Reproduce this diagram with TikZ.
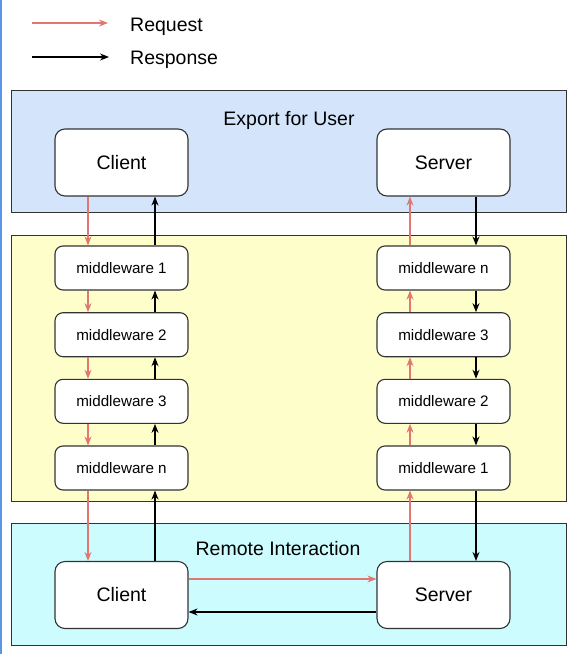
\documentclass[tikz,border=0pt]{standalone}
\usepackage{fontspec}
\setmainfont{Liberation Sans}
\usetikzlibrary{arrows.meta}
\definecolor{reqred}{HTML}{E07772}
\definecolor{boxline}{HTML}{333333}
\definecolor{blueband}{HTML}{D4E5FB}
\definecolor{yellowband}{HTML}{FEFECB}
\definecolor{cyanband}{HTML}{CDFCFE}
\definecolor{edgeblue}{HTML}{5B95E6}
\tikzset{
  band/.style={draw=boxline, line width=1pt, minimum width=555pt, anchor=north west, inner sep=0pt},
  bigbox/.style={draw=boxline, fill=white, line width=1.1pt, rounded corners=10pt,
    minimum width=133pt, minimum height=67pt, inner sep=0pt, font=\fontsize{19.5}{22}\selectfont},
  mwbox/.style={draw=boxline, fill=white, line width=1.1pt, rounded corners=8pt,
    minimum width=133pt, minimum height=44pt, inner sep=0pt, font=\fontsize{15.2}{18}\selectfont},
  title/.style={font=\fontsize{19.5}{22}\selectfont, inner sep=0pt},
  req/.style={draw=reqred, line width=1.1pt, -{Stealth[length=9pt,width=7pt]}},
  resp/.style={draw=black, line width=1.1pt, -{Stealth[length=9pt,width=7pt]}},
}
\begin{document}
\begin{tikzpicture}[x=1pt,y=1pt]
\useasboundingbox (0,0) rectangle (576,-654);
\fill[white] (0,0) rectangle (576,-654);
\draw[edgeblue, line width=1.5pt] (0.75,0) -- (0.75,-654);
% legend
\coordinate (lg1a) at (32,-23);
\coordinate (lg1b) at (108,-23);
\coordinate (lg2a) at (32,-57);
\coordinate (lg2b) at (109,-57);
\draw[req] (lg1a) -- (lg1b);
\draw[resp] (lg2a) -- (lg2b);
\node[title, anchor=west] (reqtxt) at (130,-26.5) {Request};
\node[title, anchor=west] (resptxt) at (130,-59.5) {Response};
% bands
\node[band, fill=blueband, minimum height=122pt] (top) at (11,-90) {};
\node[band, fill=yellowband, minimum height=266pt] (mid) at (11,-234.5) {};
\node[band, fill=cyanband, minimum height=122pt] (bot) at (11,-523) {};
\node[title] (ttop) at (289,-120.5) {Export for User};
\node[title] (tbot) at (278,-549) {Remote Interaction};
% top boxes
\node[bigbox] (c1) at (121.5,-162.5) {Client};
\node[bigbox] (s1) at (443.5,-162.5) {Server};
% middleware left
\node[mwbox] (lm1) at (121.5,-268) {middleware 1};
\node[mwbox] (lm2) at (121.5,-334.7) {middleware 2};
\node[mwbox] (lm3) at (121.5,-401.3) {middleware 3};
\node[mwbox] (lmn) at (121.5,-468) {middleware n};
% middleware right
\node[mwbox] (rmn) at (443.5,-268) {middleware n};
\node[mwbox] (rm3) at (443.5,-334.7) {middleware 3};
\node[mwbox] (rm2) at (443.5,-401.3) {middleware 2};
\node[mwbox] (rm1) at (443.5,-468) {middleware 1};
% bottom boxes
\node[bigbox] (c2) at (121.5,-595) {Client};
\node[bigbox] (s2) at (443.5,-595) {Server};
% column coordinates
\coordinate (lx) at (88,0);
\coordinate (bx) at (155,0);
\coordinate (rx) at (410,0);
\coordinate (kx) at (476,0);
\coordinate (ry) at (0,-579);
\coordinate (ky) at (0,-612);
% left column: request down, response up
\draw[req] (c1.south -| lx) -- (lm1.north -| lx);
\draw[req] (lm1.south -| lx) -- (lm2.north -| lx);
\draw[req] (lm2.south -| lx) -- (lm3.north -| lx);
\draw[req] (lm3.south -| lx) -- (lmn.north -| lx);
\draw[req] (lmn.south -| lx) -- (c2.north -| lx);
\draw[resp] (c2.north -| bx) -- (lmn.south -| bx);
\draw[resp] (lmn.north -| bx) -- (lm3.south -| bx);
\draw[resp] (lm3.north -| bx) -- (lm2.south -| bx);
\draw[resp] (lm2.north -| bx) -- (lm1.south -| bx);
\draw[resp] (lm1.north -| bx) -- (c1.south -| bx);
% right column: request up, response down
\draw[req] (s2.north -| rx) -- (rm1.south -| rx);
\draw[req] (rm1.north -| rx) -- (rm2.south -| rx);
\draw[req] (rm2.north -| rx) -- (rm3.south -| rx);
\draw[req] (rm3.north -| rx) -- (rmn.south -| rx);
\draw[req] (rmn.north -| rx) -- (s1.south -| rx);
\draw[resp] (s1.south -| kx) -- (rmn.north -| kx);
\draw[resp] (rmn.south -| kx) -- (rm3.north -| kx);
\draw[resp] (rm3.south -| kx) -- (rm2.north -| kx);
\draw[resp] (rm2.south -| kx) -- (rm1.north -| kx);
\draw[resp] (rm1.south -| kx) -- (s2.north -| kx);
% bottom horizontal
\draw[req] (c2.east |- ry) -- (s2.west |- ry);
\draw[resp] (s2.west |- ky) -- (c2.east |- ky);
\end{tikzpicture}
\end{document}
